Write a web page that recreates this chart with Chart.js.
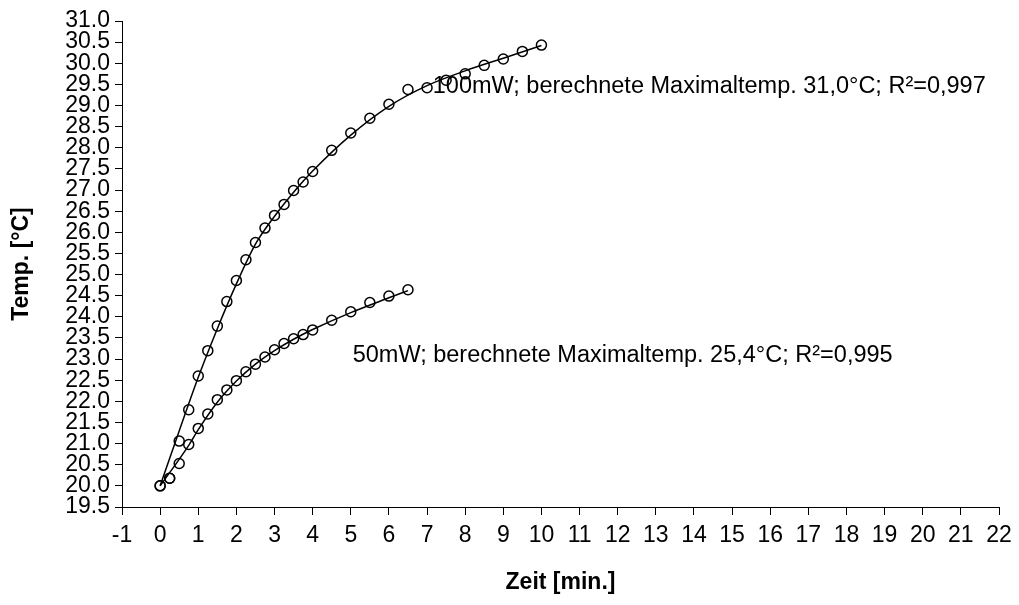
<!DOCTYPE html>
<html>
<head>
<meta charset="utf-8">
<script src="https://cdn.jsdelivr.net/npm/chart.js@4/dist/chart.umd.min.js"></script>
<style>
  html, body { margin: 0; padding: 0; background: #fff; }
  #wrap { width: 1019px; height: 605px; position: relative; }
</style>
</head>
<body>
<div id="wrap"><canvas id="chart"></canvas></div>
<script>
// measured points
const time100 = [0, 0.25, 0.5, 0.75, 1, 1.25, 1.5, 1.75, 2, 2.25, 2.5, 2.75, 3, 3.25, 3.5, 3.75, 4, 4.5, 5, 5.5, 6, 6.5, 7, 7.5, 8, 8.5, 9, 9.5, 10];
const temp100 = [20.0, 20.18, 21.06, 21.8, 22.6, 23.2, 23.78, 24.36, 24.86, 25.35, 25.76, 26.1, 26.4, 26.66, 26.99, 27.19, 27.44, 27.94, 28.35, 28.7, 29.03, 29.38, 29.42, 29.6, 29.75, 29.95, 30.1, 30.28, 30.43];

const time50 = [0, 0.25, 0.5, 0.75, 1, 1.25, 1.5, 1.75, 2, 2.25, 2.5, 2.75, 3, 3.25, 3.5, 3.75, 4, 4.5, 5, 5.5, 6, 6.5];
const temp50 = [20.0, 20.18, 20.53, 20.98, 21.36, 21.7, 22.04, 22.27, 22.49, 22.7, 22.88, 23.05, 23.22, 23.37, 23.48, 23.58, 23.69, 23.92, 24.12, 24.34, 24.49, 24.64];

// fitted curves
const fitTime100 = [0, 0.5, 1, 1.5, 2, 2.5, 3, 3.5, 4, 5, 6, 7, 8, 9, 10];
const fitTemp100 = [20.0, 21.3, 22.57, 23.72, 24.78, 25.72, 26.38, 26.95, 27.45, 28.3, 28.98, 29.47, 29.82, 30.12, 30.42];

const fitTime50 = [0, 0.75, 1, 1.5, 2, 2.5, 3, 3.5, 4, 5, 6, 6.5];
const fitTemp50 = [20.0, 20.96, 21.33, 21.98, 22.48, 22.88, 23.2, 23.47, 23.7, 24.1, 24.45, 24.62];

const notes = [
  { text: "100mW; berechnete Maximaltemp. 31,0°C; R²=0,997", x: 7.15, y: 29.45 },
  { text: "50mW; berechnete Maximaltemp. 25,4°C; R²=0,995", x: 5.05, y: 23.08 },
];

const FONT = "'Liberation Sans', Arial, sans-serif";

function pairs(xs, ys) {
  return xs.map((x, i) => ({ x: x, y: ys[i] }));
}

function pointSet(xs, ys) {
  return {
    data: pairs(xs, ys),
    showLine: false,
    pointStyle: "circle",
    pointRadius: 5,
    pointBorderWidth: 1.5,
    pointBorderColor: "#000",
    pointBackgroundColor: "rgba(0,0,0,0)",
  };
}

function lineSet(xs, ys) {
  return {
    data: pairs(xs, ys),
    showLine: true,
    borderColor: "#000",
    borderWidth: 1.5,
    pointRadius: 0,
    cubicInterpolationMode: "monotone",
    fill: false,
  };
}

const notePlugin = {
  id: "notes",
  afterDatasetsDraw(chart) {
    const ctx = chart.ctx;
    const xs = chart.scales.x;
    const ys = chart.scales.y;
    ctx.save();
    ctx.fillStyle = "#000";
    ctx.font = "23.5px " + FONT;
    ctx.textAlign = "left";
    ctx.textBaseline = "middle";
    notes.forEach((n) => {
      ctx.fillText(n.text, xs.getPixelForValue(n.x), ys.getPixelForValue(n.y));
    });
    ctx.restore();
  },
};

new Chart(document.getElementById("chart"), {
  type: "scatter",
  data: {
    datasets: [
      lineSet(fitTime100, fitTemp100),
      lineSet(fitTime50, fitTemp50),
      pointSet(time100, temp100),
      pointSet(time50, temp50),
    ],
  },
  plugins: [notePlugin],
  options: {
    responsive: true,
    maintainAspectRatio: false,
    animation: false,
    layout: {
      padding: { left: 0, right: 20, top: 21, bottom: 0 },
    },
    scales: {
      x: {
        type: "linear",
        min: -1,
        max: 22,
        afterFit: (s) => { s.height = 98; },
        border: { color: "#000", width: 1 },
        grid: { drawOnChartArea: false, drawTicks: true, tickLength: 8, color: "#000" },
        ticks: {
          stepSize: 1,
          color: "#000",
          padding: 7,
          font: { family: FONT, size: 23, lineHeight: 1.2 },
          maxRotation: 0,
          autoSkip: false,
        },
        title: {
          display: true,
          text: "Zeit [min.]",
          color: "#000",
          font: { family: FONT, size: 23, weight: "bold", lineHeight: 1.2 },
          padding: { top: 0, bottom: 9 },
        },
      },
      y: {
        type: "linear",
        min: 19.5,
        max: 31,
        afterFit: (s) => { s.width = 122; },
        border: { color: "#000", width: 1 },
        grid: { drawOnChartArea: false, drawTicks: true, tickLength: 7, color: "#000" },
        ticks: {
          stepSize: 0.5,
          color: "#000",
          padding: 5,
          font: { family: FONT, size: 23, lineHeight: 1 },
          autoSkip: false,
          callback: (v) => Number(v).toFixed(1),
        },
        title: {
          display: true,
          text: "Temp. [°C]",
          color: "#000",
          font: { family: FONT, size: 23, weight: "bold", lineHeight: 1.2 },
          padding: { top: 8, bottom: 0 },
        },
      },
    },
    plugins: {
      legend: { display: false },
      tooltip: { enabled: false },
    },
  },
});
</script>
</body>
</html>
